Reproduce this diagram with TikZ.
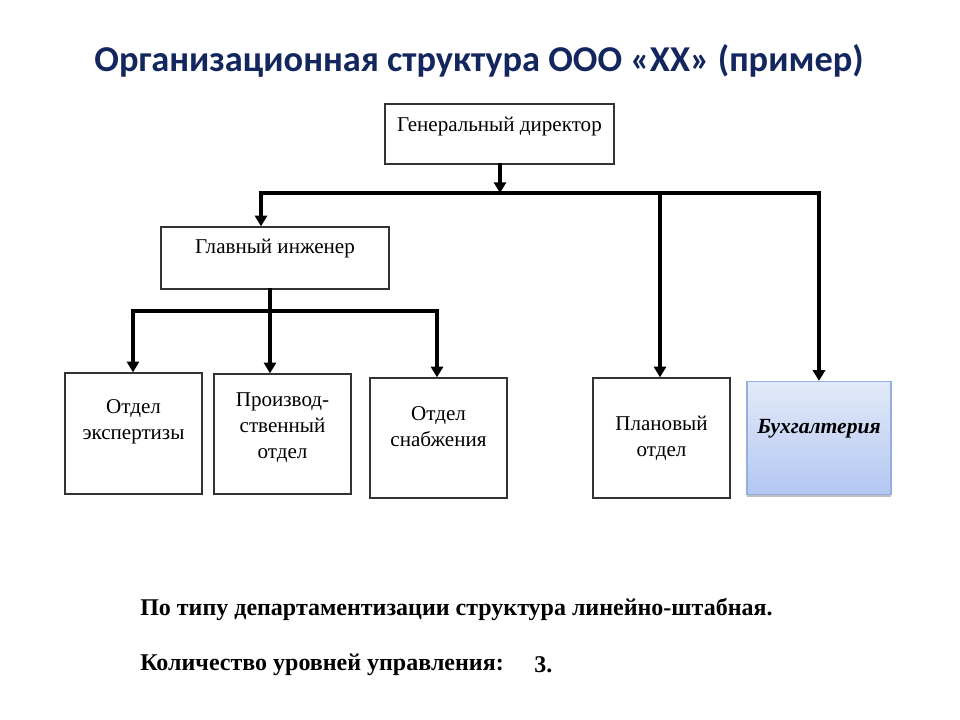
\documentclass[tikz,border=0pt]{standalone}
\usepackage{fontspec}
\setmainfont{Liberation Serif}
\newfontfamily\titlefont{Carlito}
\usetikzlibrary{arrows.meta}
\definecolor{titleblue}{HTML}{13275E}
\definecolor{buxtop}{HTML}{E2EAF9}
\definecolor{buxbot}{HTML}{B3C7F2}
\definecolor{buxedge}{HTML}{95AEDD}
\tikzset{
  box/.style={draw=black!80, line width=1pt, fill=white, inner sep=0pt},
  lbl/.style={inner sep=0pt, align=center, font=\fontsize{15.8}{19.5}\selectfont},
  conn/.style={line width=2.6pt, line cap=rect},
  arr/.style={conn, -{Triangle[length=8pt,width=9pt]}},
}
\begin{document}
\begin{tikzpicture}[x=0.75pt,y=-0.75pt]
\useasboundingbox (0,0) rectangle (960,720);
\node[inner sep=0pt, font=\titlefont\bfseries\fontsize{27.3}{30}\selectfont, text=titleblue] (title) at (479,61) {Организационная структура ООО «ХХ» (пример)};

\node[box, minimum width=171.75pt, minimum height=45pt] (gd) at (499.5,134) {};
\node[lbl] (gdt) at (499.5,127) {Генеральный директор};

\node[box, minimum width=171pt, minimum height=46.5pt] (eng) at (275,258) {};
\node[lbl] (engt) at (275,249) {Главный инженер};

\node[box, minimum width=102.75pt, minimum height=90.75pt] (exp) at (133.5,433.5) {};
\node[lbl] (expt) at (133.5,422) {Отдел\\экспертизы};

\node[box, minimum width=102.75pt, minimum height=90pt] (prod) at (282.5,434) {};
\node[lbl] (prodt) at (282.5,428) {Производ-\\ственный\\отдел};

\node[box, minimum width=102.75pt, minimum height=90pt] (snab) at (438.5,438) {};
\node[lbl] (snabt) at (438.5,426.5) {Отдел\\снабжения};

\node[box, minimum width=102.75pt, minimum height=90pt] (plan) at (661.5,438) {};
\node[lbl] (plant) at (661.5,438) {Плановый\\отдел};

\fill[black!25] (747,493) rectangle (891,497);
\node[draw=buxedge, line width=0.9pt, top color=buxtop, bottom color=buxbot, inner sep=0pt, minimum width=108pt, minimum height=84.75pt] (bux) at (819,438) {};
\node[lbl, font=\fontsize{16.2}{19.5}\selectfont\bfseries\itshape] (buxt) at (819,429) {Бухгалтерия};

% level 1 connectors
\coordinate (j1) at (500,193);
\coordinate (bl) at (261,193);
\coordinate (br) at (819,193);
\coordinate (bp) at (660,193);
\draw[arr] (gd.south -| j1) -- (j1);
\draw[conn] (bl) -- (br);
\draw[arr] (bl) -- (bl |- eng.north);
\draw[arr] (bp) -- (bp |- plan.north);
\draw[arr] (br) -- (br |- bux.north);

% level 2 connectors
\coordinate (j2) at (270,311);
\coordinate (cl) at (133,311);
\coordinate (cr) at (437,311);
\draw[conn] (cl) -- (cr);
\draw[arr] (eng.south -| j2) -- (j2 |- prod.north);
\draw[arr] (cl) -- (cl |- exp.north);
\draw[arr] (cr) -- (cr |- snab.north);

\node[anchor=west, inner sep=0pt, font=\bfseries\fontsize{18}{20}\selectfont] (note1) at (140,609) {По типу департаментизации структура линейно-штабная.};
\node[anchor=west, inner sep=0pt, font=\bfseries\fontsize{18}{20}\selectfont] (note2) at (140,665) {Количество уровней управления:};
\node[anchor=west, inner sep=0pt, font=\bfseries\fontsize{18}{20}\selectfont] (note3) at (534,665) {3.};
\end{tikzpicture}
\end{document}
